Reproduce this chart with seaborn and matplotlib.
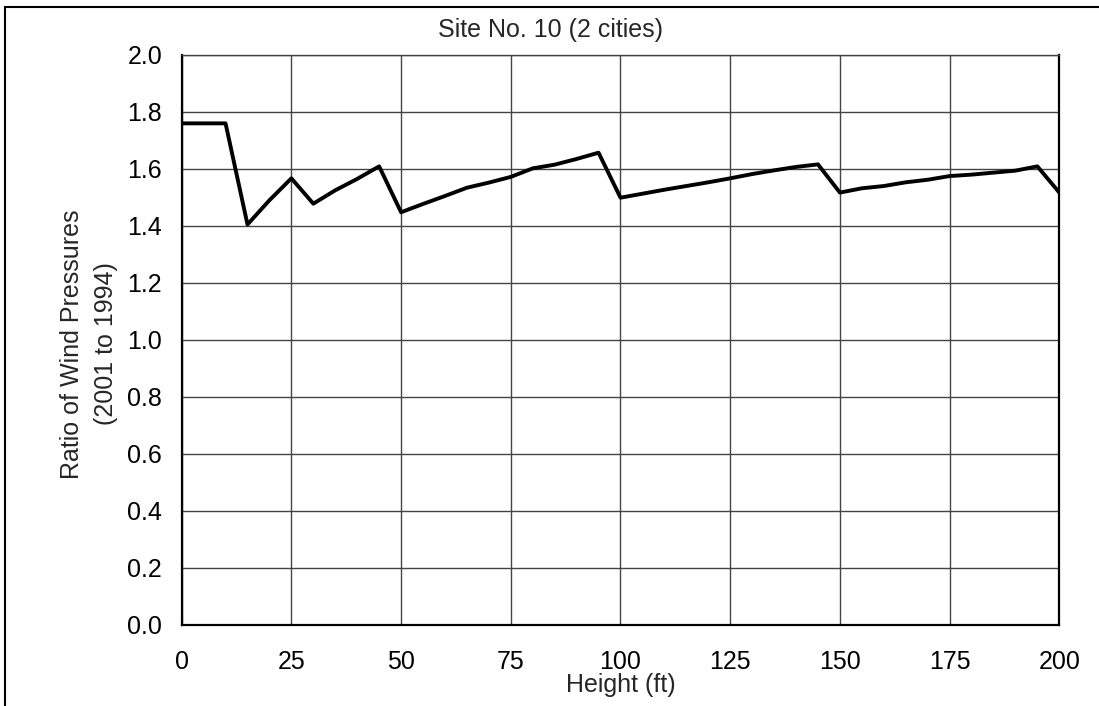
import numpy as np
import pandas as pd
import matplotlib
matplotlib.use('Agg')
import matplotlib.pyplot as plt
from matplotlib.patches import Rectangle
import seaborn as sns

# ── Data ──────────────────────────────────────────────────────────────────────
heights = list(range(0, 205, 5))
ratios = [1.76, 1.76, 1.76, 1.405, 1.49, 1.567, 1.478, 1.525, 1.565, 1.609,
          1.448, 1.477, 1.505, 1.534, 1.552, 1.572, 1.602, 1.615, 1.635, 1.657,
          1.499, 1.513, 1.527, 1.540, 1.553, 1.567, 1.582, 1.595, 1.607, 1.616,
          1.517, 1.532, 1.540, 1.553, 1.562, 1.575, 1.580, 1.587, 1.594, 1.609,
          1.517]
x_ticks = [0, 25, 50, 75, 100, 125, 150, 175, 200]
y_ticks = [0.0, 0.2, 0.4, 0.6, 0.8, 1.0, 1.2, 1.4, 1.6, 1.8, 2.0]

title = 'Site No. 10 (2 cities)'
x_label = 'Height (ft)'
y_label = 'Ratio of Wind Pressures\n(2001 to 1994)'

df = pd.DataFrame({'height': heights, 'ratio': ratios})

# ── Style ─────────────────────────────────────────────────────────────────────
sns.set_style('white')
plt.rcParams['font.family'] = ['Liberation Sans', 'DejaVu Sans']
FS = 18

W, H = 1099, 706
fig = plt.figure(figsize=(W / 100, H / 100), dpi=100)
ax = fig.add_axes([0.1653, 0.1152, 0.7986, 0.8069])

sns.lineplot(data=df, x='height', y='ratio', color='black', linewidth=2.8, ax=ax)

ax.set_xlim(0, 200)
ax.set_ylim(0, 2.0)
ax.set_xticks(x_ticks)
ax.set_yticks(y_ticks)
ax.set_xticklabels([str(t) for t in x_ticks])
ax.set_yticklabels([f'{t:.1f}' for t in y_ticks])
ax.tick_params(axis='both', direction='out', length=6, width=1, color='#555555',
               labelsize=FS, labelcolor='black')
ax.tick_params(axis='x', pad=12)
ax.tick_params(axis='y', pad=8)

ax.grid(True, color='#444444', linewidth=1.0)
ax.set_axisbelow(True)

for side in ['left', 'bottom', 'right']:
    ax.spines[side].set_color('black')
    ax.spines[side].set_linewidth(1.6)
ax.spines['top'].set_color('#444444')
ax.spines['top'].set_linewidth(1.0)

ax.set_xlabel(x_label, fontsize=FS)
ax.xaxis.set_label_coords(0.5, -(673 - 625) / 570)
ax.set_ylabel(y_label, fontsize=FS, linespacing=1.55)
ax.yaxis.set_label_coords((118 - 181.7) / 877.6, (625 - 344) / 570)

# chart title is centred on the whole chart, not the plot area
fig.text(551 / W, 1 - 36.7 / H, title, fontsize=FS, ha='center', va='baseline')

# outer frame (cropped on the right and bottom)
fig.patches.append(Rectangle((5 / W, -0.05), 1.2, 1 - 7 / H + 0.05,
                             transform=fig.transFigure, fill=False,
                             edgecolor='black', linewidth=1.5))

fig.savefig('out.png', dpi=100)
plt.close(fig)
